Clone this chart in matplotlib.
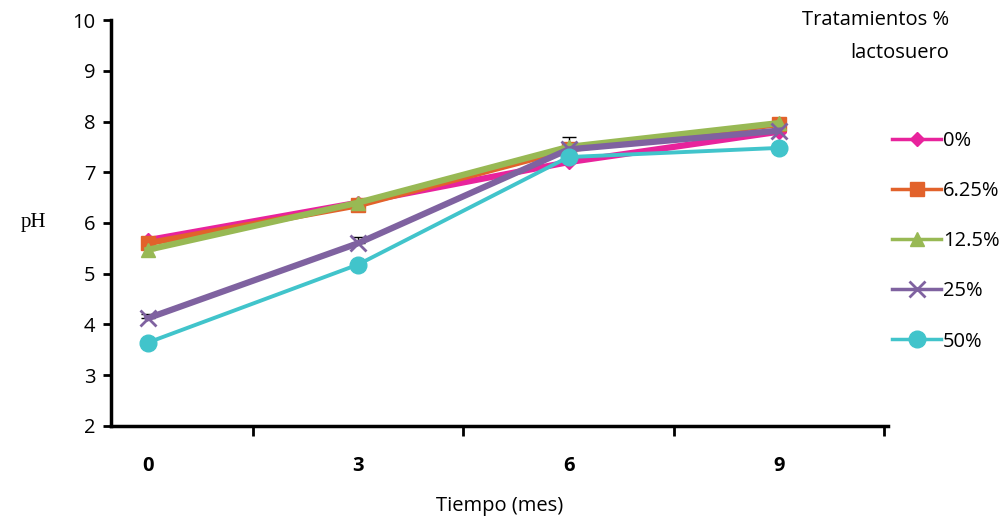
import numpy as np
import matplotlib.pyplot as plt
from matplotlib.lines import Line2D

tiempo = ["0", "3", "6", "9"]
tratamientos = ["0%", "6.25%", "12.5%", "25%", "50%"]
ph_0 = [5.66, 6.40, 7.20, 7.80]
ph_625 = [5.60, 6.35, 7.45, 7.95]
ph_125 = [5.47, 6.40, 7.50, 7.97]
ph_25 = [4.12, 5.60, 7.45, 7.82]
ph_50 = [3.64, 5.18, 7.30, 7.48]
err_25 = [0.08, 0.12, 0.05, 0.05]
err_625 = [0.05, 0.05, 0.25, 0.05]

series = [ph_0, ph_625, ph_125, ph_25, ph_50]
colors = ["#E8239C", "#E2622B", "#98B954", "#7F62A0", "#41C4CB"]
markers = ["D", "s", "^", "x", "o"]
msizes = [7, 10, 10, 11, 12]
lws = [4.5, 4.5, 4.5, 4.5, 2.8]

plt.rcParams['font.family'] = ['Open Sans', 'DejaVu Sans']

fig = plt.figure(figsize=(10.05, 5.29), dpi=100)
ax = fig.add_axes([0.110, 0.195, 0.774, 0.767])

x = np.arange(len(tiempo))
for i, vals in enumerate(series):
    ax.plot(x, vals, color=colors[i], marker=markers[i], ms=msizes[i],
            lw=lws[i], mew=2 if markers[i] == "x" else 1, zorder=3 + i * 0.1)

ax.errorbar(x, ph_25, yerr=[np.zeros(4), err_25], fmt="none", ecolor="black",
            elinewidth=1, capsize=5, zorder=2)
ax.errorbar(x, ph_625, yerr=[np.zeros(4), err_625], fmt="none", ecolor="black",
            elinewidth=1, capsize=5, zorder=2)

ax.set_xlim(-0.176, 3.52)
ax.set_ylim(2, 10)
ax.set_yticks(range(2, 11))
ax.tick_params(axis="y", labelsize=14.5, length=6, width=2, direction="out", pad=5)
ax.set_xticks(x + 0.5)
ax.set_xticklabels([])
ax.tick_params(axis="x", length=7, width=2, direction="out")
for xi, lab in zip(x, tiempo):
    ax.text(xi, 1.2, lab, ha="center", va="center", fontsize=14.5,
            fontweight="bold", transform=ax.transData)

for s in ["top", "right"]:
    ax.spines[s].set_visible(False)
for s in ["left", "bottom"]:
    ax.spines[s].set_linewidth(2.5)

ax.set_xlabel("Tiempo (mes)", fontsize=14.5, labelpad=40)
ax.set_ylabel("pH", fontsize=15, family="Liberation Serif", rotation=0,
              labelpad=28, va="center")

fig.text(0.871, 0.962, "Tratamientos %", ha="center", va="center", fontsize=14.5)
fig.text(0.895, 0.900, "lactosuero", ha="center", va="center", fontsize=14.5)

handles = [Line2D([0], [0], color=colors[i], marker=markers[i], ms=msizes[i],
                  lw=2.5, mew=2 if markers[i] == "x" else 1)
           for i in range(len(tratamientos))]
fig.legend(handles, tratamientos, loc="upper left", bbox_to_anchor=(0.878, 0.772),
           frameon=False, fontsize=14.5, handlelength=2.4, handletextpad=0.1,
           labelspacing=1.5, borderpad=0)

plt.savefig("out.png", dpi=100)
